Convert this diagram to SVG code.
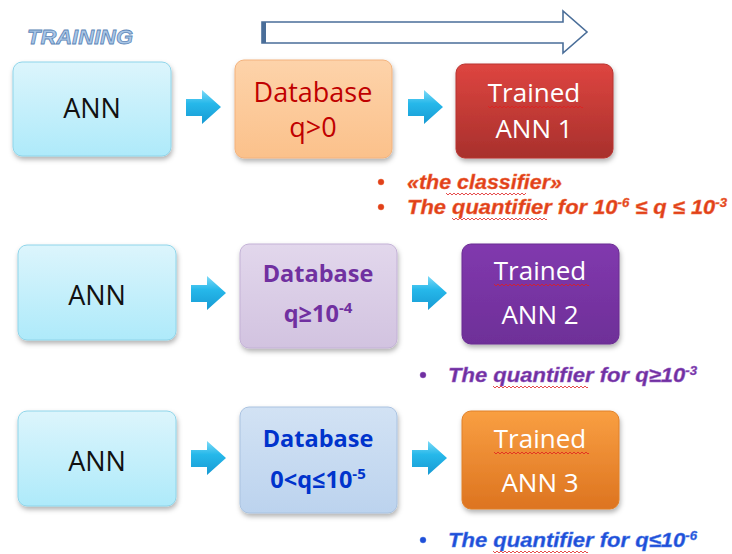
<svg xmlns="http://www.w3.org/2000/svg" width="732" height="554" viewBox="0 0 732 554">
<defs>
<filter id="sh" x="-10%" y="-10%" width="125%" height="130%"><feDropShadow dx="1" dy="3" stdDeviation="2.5" flood-color="#000" flood-opacity="0.3"/></filter>
<linearGradient id="gAnn" x1="0" y1="0" x2="0" y2="1"><stop offset="0" stop-color="#dcf5fc"/><stop offset="1" stop-color="#aeeafa"/></linearGradient>
<linearGradient id="gDb1" x1="0" y1="0" x2="0" y2="1"><stop offset="0" stop-color="#fdd3aa"/><stop offset="1" stop-color="#fbc18b"/></linearGradient>
<linearGradient id="gTr1" x1="0" y1="0" x2="0" y2="1"><stop offset="0" stop-color="#de4540"/><stop offset="1" stop-color="#a8302c"/></linearGradient>
<linearGradient id="gDb2" x1="0" y1="0" x2="0" y2="1"><stop offset="0" stop-color="#e2d7ec"/><stop offset="1" stop-color="#d2c3e0"/></linearGradient>
<linearGradient id="gTr2" x1="0" y1="0" x2="0" y2="1"><stop offset="0" stop-color="#8139ae"/><stop offset="1" stop-color="#6e2f98"/></linearGradient>
<linearGradient id="gDb3" x1="0" y1="0" x2="0" y2="1"><stop offset="0" stop-color="#d2e2f4"/><stop offset="1" stop-color="#bcd3ee"/></linearGradient>
<linearGradient id="gTr3" x1="0" y1="0" x2="0" y2="1"><stop offset="0" stop-color="#f99f42"/><stop offset="1" stop-color="#dd7420"/></linearGradient>
<linearGradient id="gArr" x1="0" y1="0" x2="0" y2="1"><stop offset="0" stop-color="#7ddaf7"/><stop offset="0.4" stop-color="#26b8ea"/><stop offset="1" stop-color="#179ad3"/></linearGradient>
<path id="blk" d="M0,9 H16 V0 L35,17 L16,34 V26 H0 Z"/>
<path id="wave" d="M0,0 l2,2 l2,-2 l2,2 l2,-2 l2,2 l2,-2 l2,2 l2,-2 l2,2 l2,-2 l2,2 l2,-2 l2,2 l2,-2 l2,2 l2,-2 l2,2 l2,-2 l2,2 l2,-2 l2,2 l2,-2 l2,2 l2,-2 l2,2 l2,-2 l2,2 l2,-2 l2,2 l2,-2 l2,2 l2,-2 l2,2 l2,-2 l2,2 l2,-2 l2,2 l2,-2 l2,2 l2,-2 l2,2 l2,-2 l2,2 l2,-2 l2,2 l2,-2 l2,2 l2,-2 l2,2"/>
<clipPath id="w80"><rect x="0" y="-2" width="80" height="6"/></clipPath>
<clipPath id="w95"><rect x="0" y="-2" width="95" height="6"/></clipPath>
</defs>
<style>
.box{filter:url(#sh);stroke-width:1}
.ann{fill:url(#gAnn);stroke:#8ed5ea}
.cal{font-family:"Open Sans","Noto Sans","Liberation Sans",sans-serif;text-anchor:middle}
.blk{fill:#111;font-size:27px}
.wht{fill:#fff;font-size:26px}
.bul{font-family:"Liberation Sans",Arial,sans-serif;font-weight:bold;font-style:italic;font-size:20px}
.wv{fill:none;stroke:#e02020;stroke-width:0.8}
.arr{fill:url(#gArr)}
</style>
<rect width="732" height="554" fill="#fff"/>

<text x="27" y="44" font-family="Liberation Sans,Arial,sans-serif" font-weight="bold" font-style="italic" font-size="21" fill="#a9c6e6" stroke="#5d86b8" stroke-width="0.8" textLength="106" lengthAdjust="spacingAndGlyphs">TRAINING</text>

<g id="bigArrow">
<path d="M262,22 H563 V11 L587,32 L563,53 V43 H262 Z" fill="#fff" stroke="#4a6e99" stroke-width="1.6"/>
<rect x="262" y="22" width="4" height="21" fill="#4a6e99"/>
</g>

<g id="connectors">
<use href="#blk" x="186" y="90" class="arr"/>
<use href="#blk" x="408" y="90" class="arr"/>
<use href="#blk" x="191" y="276" class="arr"/>
<use href="#blk" x="412" y="276" class="arr"/>
<use href="#blk" x="191" y="441" class="arr"/>
<use href="#blk" x="412" y="441" class="arr"/>
</g>

<g id="ann1">
<rect class="box ann" x="13" y="62" width="158" height="94" rx="9"/>
<text class="cal blk" x="92" y="118">ANN</text>
</g>
<g id="db1">
<rect class="box" x="235" y="60" width="157" height="98" rx="9" fill="url(#gDb1)" stroke="#f3b27c"/>
<text class="cal" x="313" y="102" font-size="27" fill="#c00000">Database</text>
<text class="cal" x="313" y="137" font-size="27" fill="#c00000">q&gt;0</text>
</g>
<g id="tr1">
<rect class="box" x="456" y="64" width="157" height="94" rx="9" fill="url(#gTr1)" stroke="#b83430"/>
<text class="cal wht" x="534" y="102">Trained</text>
<use href="#wave" x="488" y="106" class="wv" clip-path="url(#w95)"/>
<text class="cal wht" x="534" y="138">ANN 1</text>
</g>

<g id="ann2">
<rect class="box ann" x="18" y="245" width="158" height="95" rx="9"/>
<text class="cal blk" x="97" y="305">ANN</text>
</g>
<g id="db2">
<rect class="box" x="240" y="244" width="157" height="104" rx="9" fill="url(#gDb2)" stroke="#c3b1d6"/>
<text class="cal" x="318" y="282" font-size="23.5" font-weight="bold" fill="#7030a0">Database</text>
<text class="cal" x="318" y="322" font-size="23.5" font-weight="bold" fill="#7030a0">q≥10<tspan dy="-9" font-size="15">-4</tspan></text>
</g>
<g id="tr2">
<rect class="box" x="462" y="244" width="157" height="100" rx="9" fill="url(#gTr2)" stroke="#6a2c92"/>
<text class="cal wht" x="540" y="280">Trained</text>
<use href="#wave" x="494" y="284" class="wv" clip-path="url(#w95)"/>
<text class="cal wht" x="540" y="324">ANN 2</text>
</g>

<g id="ann3">
<rect class="box ann" x="18" y="411" width="158" height="95" rx="9"/>
<text class="cal blk" x="97" y="471">ANN</text>
</g>
<g id="db3">
<rect class="box" x="240" y="407" width="157" height="106" rx="9" fill="url(#gDb3)" stroke="#a9c2e0"/>
<text class="cal" x="318" y="447" font-size="23.5" font-weight="bold" fill="#0033cc">Database</text>
<text class="cal" x="318" y="488" font-size="23.5" font-weight="bold" fill="#0033cc">0&lt;q≤10<tspan dy="-9" font-size="15">-5</tspan></text>
</g>
<g id="tr3">
<rect class="box" x="462" y="411" width="157" height="98" rx="9" fill="url(#gTr3)" stroke="#e08028"/>
<text class="cal wht" x="540" y="448">Trained</text>
<use href="#wave" x="494" y="452" class="wv" clip-path="url(#w95)"/>
<text class="cal wht" x="540" y="492">ANN 3</text>
</g>

<g id="notes1" fill="#e0401a" stroke="#f07040" stroke-width="0.4">
<circle cx="381" cy="182" r="3"/>
<text class="bul" x="407" y="189" textLength="155" lengthAdjust="spacingAndGlyphs">«the classifier»</text>
<use href="#wave" x="446" y="193" class="wv" clip-path="url(#w80)"/>
<circle cx="381" cy="207" r="3"/>
<text class="bul" x="407" y="214" textLength="320" lengthAdjust="spacingAndGlyphs">The quantifier for 10<tspan dy="-7" font-size="12">-6</tspan><tspan dy="7"> ≤ q ≤ 10</tspan><tspan dy="-7" font-size="12">-3</tspan></text>
<use href="#wave" x="452" y="218" class="wv" clip-path="url(#w95)"/>
</g>
<g id="notes2" fill="#7030a0" stroke="#9a60c8" stroke-width="0.4">
<circle cx="423" cy="375" r="3"/>
<text class="bul" x="448" y="382" textLength="249" lengthAdjust="spacingAndGlyphs">The quantifier for q≥10<tspan dy="-7" font-size="12">-3</tspan></text>
<use href="#wave" x="493" y="386" class="wv" clip-path="url(#w95)"/>
</g>
<g id="notes3" fill="#1f4fd8" stroke="#5080e8" stroke-width="0.4">
<circle cx="423" cy="540" r="3"/>
<text class="bul" x="448" y="547" textLength="249" lengthAdjust="spacingAndGlyphs">The quantifier for q≤10<tspan dy="-7" font-size="12">-6</tspan></text>
<use href="#wave" x="493" y="551" class="wv" clip-path="url(#w95)"/>
</g>
</svg>
